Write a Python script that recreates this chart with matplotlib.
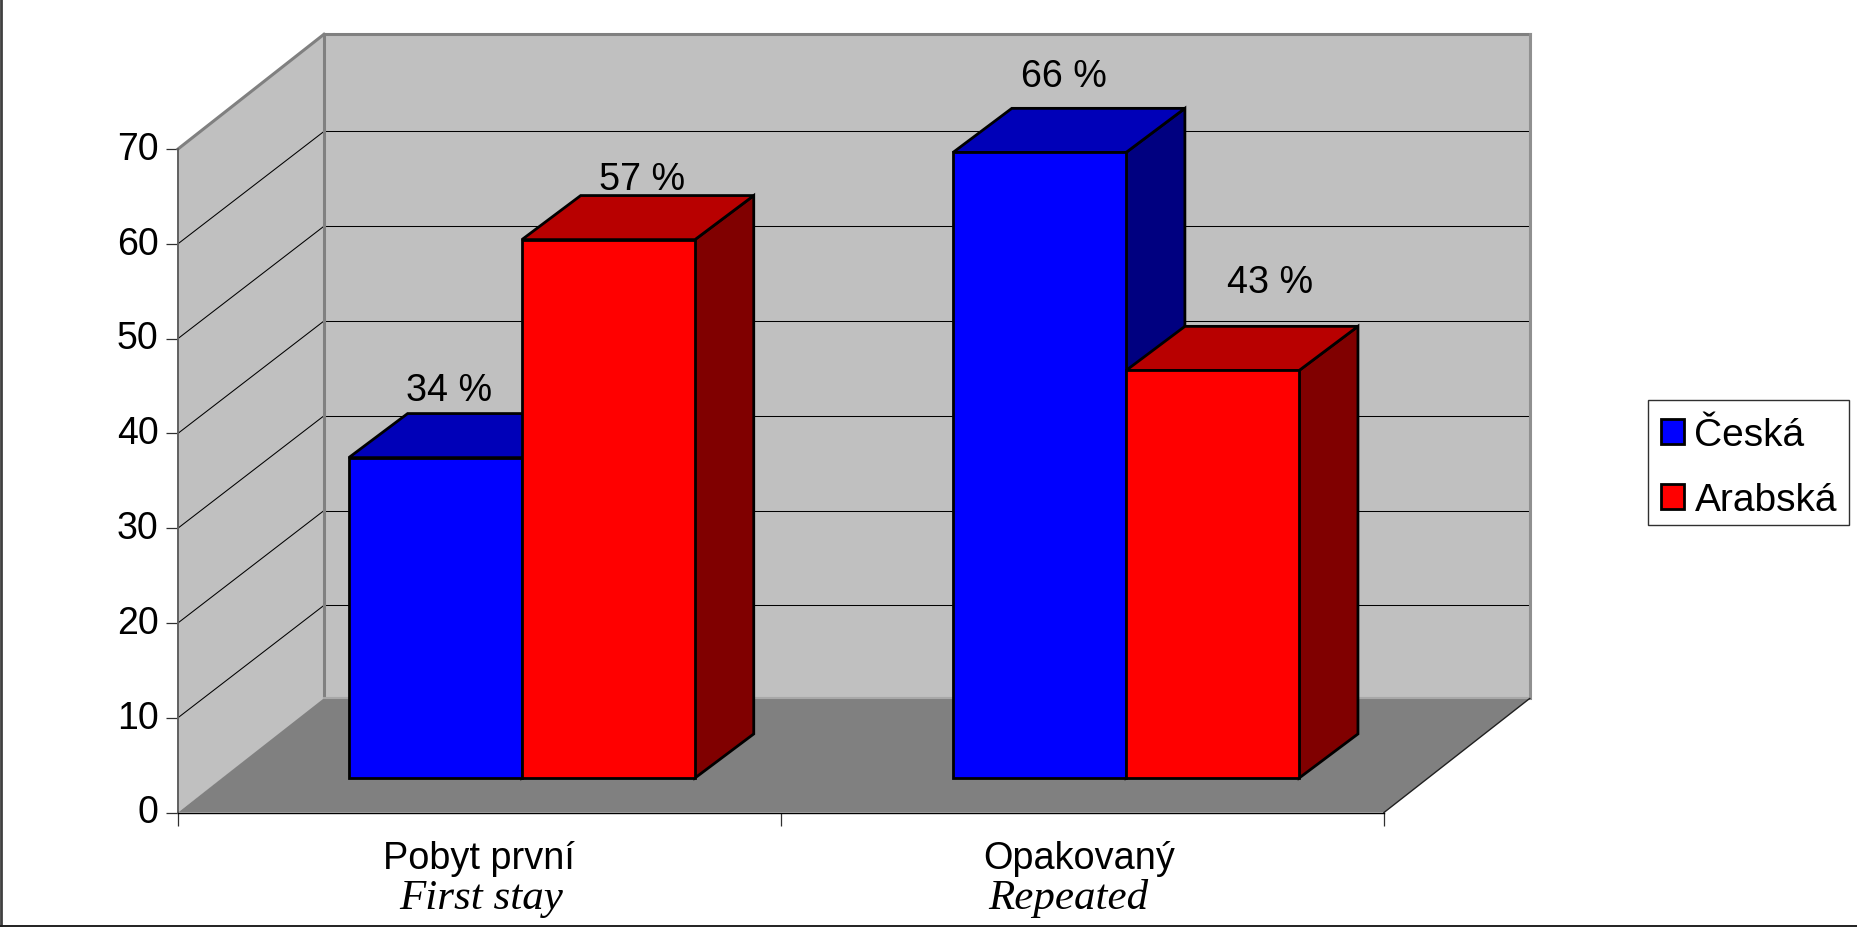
import matplotlib
matplotlib.use('Agg')
import matplotlib.pyplot as plt
from matplotlib.patches import Polygon, Patch, Rectangle
from matplotlib.lines import Line2D
from matplotlib.transforms import ScaledTranslation

# data
categories = ['Pobyt první', 'Opakovaný']
categories_en = ['First stay', 'Repeated']
series_names = ['Česká', 'Arabská']
ceska = [33.8, 66]
arabska = [56.8, 43]
value_labels = [['34 %', '66 %'], ['57 %', '43 %']]
y_ticks = [0, 10, 20, 30, 40, 50, 60, 70]

# style of the fake 3d box
front_colors = ['#0000ff', '#ff0000']
top_colors = ['#0000b8', '#b80000']
side_colors = ['#000080', '#800000']
DEPTH_X = 0.242   # category units for full depth
DEPTH_Y = 11.85   # value units for full depth
WALL_TOP = 70.25
WALL_BOTTOM = 0.2
BAR_W = 0.287
Z0 = 0.307
SIDE_DX = 0.0975  # bar depth in category units
SIDE_DY = 4.65    # bar depth in value units
group_centres = [0.496, 1.498]
# label shift from the front top centre of each bar, in pixels
label_shift = [[(14, 67.5), (24, 76)], [(34, 60.5), (57, 88)]]
cat_shift = [(2, -46), (-2, -46)]
en_shift = [(4, -85), (-12.5, -85)]

plt.rcParams['font.family'] = ['Liberation Sans', 'DejaVu Sans']
W, H = 1858, 928
fig = plt.figure(figsize=(W / 100, H / 100), dpi=100, facecolor='white')
ax = fig.add_axes([178 / W, (H - 813.5) / H, 1206 / W, 663.5 / H])
ax.set_xlim(0, 2)
ax.set_ylim(0, 70)
ax.patch.set_visible(False)


def project(x, v, z):
    return (x + z * DEPTH_X, v + z * DEPTH_Y)


def poly(points, color, edge='none', lw=0, zorder=1):
    ax.add_patch(Polygon(points, closed=True, facecolor=color, edgecolor=edge,
                         linewidth=lw, zorder=zorder, clip_on=False, joinstyle='miter'))


def line(a, b, color='black', lw=0.75, zorder=2):
    ax.add_line(Line2D([a[0], b[0]], [a[1], b[1]], color=color, linewidth=lw,
                       zorder=zorder, clip_on=False))


# walls and floor
poly([project(0, 0, 0), project(0, 70, 0), project(0, WALL_TOP, 1), project(0, 0, 1)], '#c0c0c0')
poly([project(0, 0, 1), project(0, WALL_TOP, 1), project(2, WALL_TOP, 1), project(2, 0, 1)], '#c0c0c0')
poly([project(0, 0, 0), project(2, 0, 0), project(2, WALL_BOTTOM, 1), project(0, WALL_BOTTOM, 1)], '#808080')

for v in y_ticks[1:-1]:
    line(project(0, v, 0), project(0, v, 1))
    line(project(0, v, 1), project(2, v, 1))

line(project(0, 70, 0), project(0, WALL_TOP, 1), '#808080', 2.2)
line(project(0, WALL_TOP, 1), project(2, WALL_TOP, 1), '#808080', 2.2)
line(project(0, WALL_BOTTOM, 1), project(0, WALL_TOP, 1), '#808080', 2.2)
line(project(2, WALL_BOTTOM, 1), project(2, WALL_TOP, 1), '#909090', 2.2)
line(project(0, WALL_BOTTOM, 1), project(2, WALL_BOTTOM, 1), '#a8a8a8', 1.5)
line(project(2, 0, 0), project(2, WALL_BOTTOM, 1), '#202020', 1.0)


def bar3d(x0, v, s):
    x1 = x0 + BAR_W
    fx0, fb = project(x0, 0, Z0)
    fx1, ft = project(x1, v, Z0)
    poly([(fx1, fb), (fx1, ft), (fx1 + SIDE_DX, ft + SIDE_DY), (fx1 + SIDE_DX, fb + SIDE_DY)],
         side_colors[s], 'black', 2.0, 3)
    poly([(fx0, ft), (fx1, ft), (fx1 + SIDE_DX, ft + SIDE_DY), (fx0 + SIDE_DX, ft + SIDE_DY)],
         top_colors[s], 'black', 2.0, 3)
    poly([(fx0, fb), (fx1, fb), (fx1, ft), (fx0, ft)], front_colors[s], 'black', 2.0, 3)


for i, c in enumerate(group_centres):
    for s, vals in enumerate([ceska, arabska]):
        x0 = c - BAR_W + s * BAR_W
        bar3d(x0, vals[i], s)
        ax.annotate(value_labels[s][i], xy=project(x0 + BAR_W / 2, vals[i], Z0),
                    xytext=label_shift[s][i], textcoords='offset pixels', ha='center', va='center',
                    fontsize=27.2, color='black', zorder=5, annotation_clip=False)
    ax.annotate(categories[i], xy=(c, 0), xytext=cat_shift[i], textcoords='offset pixels',
                ha='center', va='center', fontsize=27.3, annotation_clip=False)
    # english names were placed by hand in the original
    ax.annotate(categories_en[i], xy=(c, 0), xytext=en_shift[i], textcoords='offset pixels',
                ha='center', va='center', fontsize=31, style='italic',
                family=['Liberation Serif'], annotation_clip=False)

# axes
for side in ['top', 'right']:
    ax.spines[side].set_visible(False)
ax.spines['left'].set_color('#606060')
ax.spines['left'].set_linewidth(1.4)
ax.spines['left'].set_bounds(0, 70)
ax.spines['bottom'].set_color('black')
ax.spines['bottom'].set_linewidth(1.0)
ax.spines['left'].set_zorder(4)
ax.spines['bottom'].set_zorder(4)
ax.set_yticks(y_ticks)
ax.set_xticks([0, 1, 2])
ax.set_xticklabels([])
ax.tick_params(axis='y', length=9, width=0.9, color='#303030', labelsize=27, pad=5)
ax.tick_params(axis='x', length=9, width=0.9, color='#303030')
up = ScaledTranslation(0, 3 / 72, fig.dpi_scale_trans)
for lab in ax.get_yticklabels():
    lab.set_transform(lab.get_transform() + up)

# legend, the frame is drawn apart because the rows sit low in it
fig.add_artist(Rectangle((1648 / W, (H - 526) / H), 201 / W, 125 / H, facecolor='white',
                         edgecolor='#303030', linewidth=1.0, transform=fig.transFigure))
handles = [Patch(facecolor=front_colors[k], edgecolor='black', linewidth=2.0, label=series_names[k])
           for k in range(2)]
leg = fig.legend(handles=handles, loc='upper left', bbox_to_anchor=(1647 / W, (H - 404.5) / H),
                 bbox_transform=fig.transFigure, fontsize=28, frameon=False,
                 handlelength=0.6, handleheight=0.6, handletextpad=0.27,
                 labelspacing=0.74, borderpad=0.35, borderaxespad=0)
leg.set_zorder(10)

# picture frame
fig.add_artist(Line2D([0.0005, 0.0005], [0, 1], color='#404040', linewidth=2.0, transform=fig.transFigure))
fig.add_artist(Line2D([0, 1], [0.9995, 0.9995], color='#404040', linewidth=1.4, transform=fig.transFigure))
fig.add_artist(Line2D([0, 1], [0.0015, 0.0015], color='#202020', linewidth=1.4, transform=fig.transFigure))

fig.savefig('out.png', dpi=100, facecolor='white')
